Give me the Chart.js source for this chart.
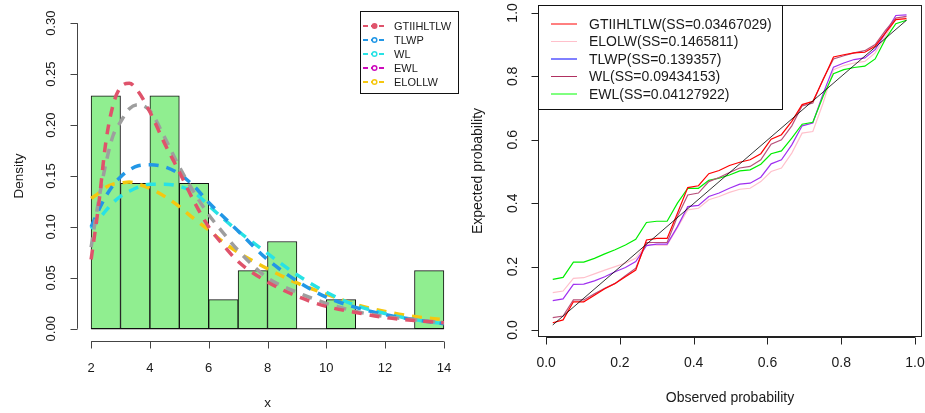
<!DOCTYPE html>
<html>
<head>
<meta charset="utf-8">
<script src="https://cdn.jsdelivr.net/npm/chart.js@4.4.1/dist/chart.umd.min.js"></script>
<style>
  body { margin: 0; background: #fff; }
  #wrap { position: relative; width: 925px; height: 413px; }
  canvas { position: absolute; top: 0; }
  #histChart { left: 0; }
  #ppChart { left: 460px; }
</style>
</head>
<body>
<div id="wrap">
  <canvas id="histChart" width="460" height="413"></canvas>
  <canvas id="ppChart" width="465" height="413"></canvas>
</div>
<script>
// ---- histogram: unit-width bins and their densities ----
const binMids = [2.5, 3.5, 4.5, 5.5, 6.5, 7.5, 8.5, 9.5, 10.5, 11.5, 12.5, 13.5];
const binDensity = [0.2286, 0.1429, 0.2286, 0.1429, 0.0286, 0.0571, 0.0857, 0, 0.0286, 0, 0, 0.0571];

// fitted densities on a grid of x values
const gridX = [2, 2.25, 2.5, 2.75, 3, 3.3, 3.6, 4, 4.5, 5, 5.5, 6, 6.5, 7, 8, 9, 10, 11, 12, 13, 14];
const densGTIIHLTLW = [0.068, 0.12, 0.183, 0.22, 0.237, 0.241, 0.233, 0.213, 0.182, 0.154, 0.125, 0.10, 0.082, 0.066, 0.046, 0.032, 0.022, 0.016, 0.011, 0.008, 0.006];
const densEWL = [0.08, 0.125, 0.162, 0.19, 0.203, 0.216, 0.22, 0.214, 0.188, 0.159, 0.134, 0.112, 0.094, 0.077, 0.05, 0.036, 0.025, 0.017, 0.012, 0.009, 0.006];
const densTLWP = [0.10, 0.116, 0.13, 0.141, 0.149, 0.156, 0.16, 0.161, 0.159, 0.152, 0.14, 0.124, 0.11, 0.096, 0.068, 0.047, 0.031, 0.021, 0.014, 0.009, 0.005];
const densWL = [0.098, 0.107, 0.116, 0.124, 0.13, 0.135, 0.139, 0.142, 0.142, 0.14, 0.134, 0.121, 0.108, 0.096, 0.074, 0.053, 0.036, 0.023, 0.015, 0.009, 0.005];
const densELOLLW = [0.128, 0.133, 0.139, 0.142, 0.143, 0.144, 0.142, 0.138, 0.13, 0.12, 0.108, 0.097, 0.085, 0.075, 0.059, 0.045, 0.034, 0.024, 0.017, 0.012, 0.009];

const histXTicks = [2, 4, 6, 8, 10, 12, 14];
const histYTicks = [0, 0.05, 0.10, 0.15, 0.20, 0.25, 0.30];
const histLabels = ['GTIIHLTLW', 'TLWP', 'WL', 'EWL', 'ELOLLW'];

// ---- P-P plot ----
const obsProb = [0.018, 0.046, 0.074, 0.102, 0.131, 0.159, 0.187, 0.215, 0.243, 0.272, 0.300, 0.328, 0.356, 0.384, 0.413, 0.441, 0.469, 0.497, 0.525, 0.553, 0.582, 0.610, 0.638, 0.666, 0.694, 0.723, 0.751, 0.779, 0.807, 0.835, 0.864, 0.892, 0.920, 0.948, 0.977];
const ppGTIIHLTLW = [0.023, 0.032, 0.089, 0.089, 0.11, 0.13, 0.147, 0.168, 0.189, 0.284, 0.289, 0.289, 0.368, 0.449, 0.455, 0.493, 0.503, 0.519, 0.529, 0.537, 0.556, 0.602, 0.616, 0.658, 0.711, 0.721, 0.789, 0.861, 0.868, 0.874, 0.876, 0.895, 0.937, 0.979, 0.982];
const ppELOLW = [0.118, 0.123, 0.163, 0.165, 0.177, 0.189, 0.20, 0.211, 0.226, 0.272, 0.268, 0.268, 0.323, 0.379, 0.384, 0.411, 0.421, 0.434, 0.444, 0.447, 0.468, 0.50, 0.511, 0.558, 0.621, 0.626, 0.716, 0.821, 0.834, 0.842, 0.847, 0.874, 0.926, 0.983, 0.987];
const ppTLWP = [0.093, 0.098, 0.144, 0.145, 0.155, 0.168, 0.184, 0.197, 0.216, 0.266, 0.271, 0.271, 0.326, 0.389, 0.393, 0.421, 0.432, 0.447, 0.46, 0.463, 0.482, 0.524, 0.537, 0.584, 0.644, 0.653, 0.745, 0.829, 0.842, 0.853, 0.858, 0.884, 0.937, 0.992, 0.994];
const ppWL = [0.039, 0.044, 0.095, 0.095, 0.114, 0.132, 0.147, 0.171, 0.195, 0.276, 0.276, 0.276, 0.358, 0.426, 0.432, 0.468, 0.481, 0.497, 0.511, 0.516, 0.537, 0.586, 0.60, 0.644, 0.707, 0.716, 0.792, 0.855, 0.865, 0.874, 0.881, 0.90, 0.945, 0.984, 0.989];
const ppEWL = [0.16, 0.166, 0.214, 0.214, 0.226, 0.24, 0.253, 0.268, 0.286, 0.339, 0.343, 0.343, 0.40, 0.447, 0.447, 0.472, 0.479, 0.489, 0.502, 0.505, 0.523, 0.556, 0.565, 0.605, 0.649, 0.655, 0.737, 0.808, 0.821, 0.828, 0.832, 0.855, 0.918, 0.966, 0.977];

const ppTicks = [0, 0.2, 0.4, 0.6, 0.8, 1.0];
const ppLabels = ['GTIIHLTLW(SS=0.03467029)', 'ELOLW(SS=0.1465811)', 'TLWP(SS=0.139357)', 'WL(SS=0.09434153)', 'EWL(SS=0.04127922)'];

const FONT = '"Liberation Sans", Arial, sans-serif';
const INK = '#1a1a1a';

const pts = (xs, ys) => xs.map((x, i) => ({ x, y: ys[i] }));

// base-graphics style axes: lines only between first and last tick, labels turned on the y side
function rAxes(cfg) {
  return {
    id: 'rAxes',
    afterDraw(chart) {
      const { ctx, chartArea: a } = chart;
      const sx = chart.scales.x, sy = chart.scales.y;
      ctx.save();
      ctx.strokeStyle = cfg.axisColor;
      ctx.lineWidth = 1;
      if (cfg.box) ctx.strokeRect(Math.round(a.left) + 0.5, Math.round(a.top) + 0.5, Math.round(a.width) - 1, Math.round(a.height) - 1);

      const yb = Math.round(a.bottom) + 0.5;
      const xl = Math.round(a.left) + 0.5;
      ctx.beginPath();
      ctx.moveTo(sx.getPixelForValue(cfg.xTicks[0]), yb);
      ctx.lineTo(sx.getPixelForValue(cfg.xTicks[cfg.xTicks.length - 1]), yb);
      cfg.xTicks.forEach(v => {
        const px = Math.round(sx.getPixelForValue(v)) + 0.5;
        ctx.moveTo(px, yb);
        ctx.lineTo(px, yb + 7);
      });
      ctx.moveTo(xl, sy.getPixelForValue(cfg.yTicks[0]));
      ctx.lineTo(xl, sy.getPixelForValue(cfg.yTicks[cfg.yTicks.length - 1]));
      cfg.yTicks.forEach(v => {
        const py = Math.round(sy.getPixelForValue(v)) + 0.5;
        ctx.moveTo(xl, py);
        ctx.lineTo(xl - 7, py);
      });
      ctx.stroke();

      ctx.fillStyle = INK;
      ctx.font = cfg.tickFont;
      ctx.textAlign = 'center';
      ctx.textBaseline = 'middle';
      cfg.xTicks.forEach(v => ctx.fillText(v.toFixed(cfg.xDigits), sx.getPixelForValue(v), cfg.xLabelY));
      cfg.yTicks.forEach(v => {
        ctx.save();
        ctx.translate(cfg.yLabelX, sy.getPixelForValue(v));
        ctx.rotate(-Math.PI / 2);
        ctx.fillText(v.toFixed(cfg.yDigits), 0, 0);
        ctx.restore();
      });

      ctx.font = cfg.titleFont;
      ctx.fillText(cfg.xTitle, (a.left + a.right) / 2, cfg.xTitleY);
      ctx.save();
      ctx.translate(cfg.yTitleX, (a.top + a.bottom) / 2);
      ctx.rotate(-Math.PI / 2);
      ctx.fillText(cfg.yTitle, 0, 0);
      ctx.restore();
      ctx.restore();
    }
  };
}

// boxed legend with a line sample (and optional marker) per entry
function rLegend(cfg) {
  return {
    id: 'rLegend',
    afterDraw(chart) {
      const ctx = chart.ctx;
      ctx.save();
      ctx.fillStyle = '#fff';
      ctx.fillRect(cfg.x, cfg.y, cfg.w, cfg.h);
      ctx.strokeStyle = '#111';
      ctx.lineWidth = 1;
      ctx.strokeRect(cfg.x + 0.5, cfg.y + 0.5, cfg.w, cfg.h);
      ctx.font = cfg.font;
      ctx.textAlign = 'left';
      ctx.textBaseline = 'middle';
      cfg.labels.forEach((lab, i) => {
        const yy = cfg.rowY + i * cfg.rowH;
        ctx.strokeStyle = cfg.colors[i];
        ctx.lineWidth = cfg.lineW;
        ctx.setLineDash(cfg.dash);
        ctx.beginPath();
        ctx.moveTo(cfg.lineX0, yy);
        ctx.lineTo(cfg.lineX1, yy);
        ctx.stroke();
        ctx.setLineDash([]);
        if (cfg.marker) {
          const cx = (cfg.lineX0 + cfg.lineX1) / 2;
          ctx.beginPath();
          if (i === 0) {
            ctx.fillStyle = cfg.colors[i];
            ctx.arc(cx, yy, 3, 0, Math.PI * 2);
            ctx.fill();
          } else {
            ctx.fillStyle = '#fff';
            ctx.lineWidth = 1.5;
            ctx.arc(cx, yy, 2.3, 0, Math.PI * 2);
            ctx.fill();
            ctx.stroke();
          }
        }
        ctx.fillStyle = INK;
        ctx.fillText(lab, cfg.textX, yy + 1);
      });
      ctx.restore();
    }
  };
}

const dashed = (color, order) => ({
  type: 'line', borderColor: color, borderWidth: 3.5, borderDash: [10, 8], borderCapStyle: 'butt',
  pointRadius: 0, cubicInterpolationMode: 'monotone', order
});

new Chart(document.getElementById('histChart'), {
  type: 'bar',
  data: {
    datasets: [
      { ...dashed('#DF536B', 1), data: pts(gridX, densGTIIHLTLW) },
      { ...dashed('#9E9E9E', 2), data: pts(gridX, densEWL) },
      { ...dashed('#2297E6', 3), data: pts(gridX, densTLWP) },
      { ...dashed('#28E2E5', 4), data: pts(gridX, densWL) },
      { ...dashed('#F5C710', 5), data: pts(gridX, densELOLLW) },
      { type: 'line', data: pts([2, 14], [0, 0]), borderColor: '#111', borderWidth: 1, pointRadius: 0, order: 9 },
      {
        type: 'bar', data: pts(binMids, binDensity), backgroundColor: '#90EE90', borderColor: '#111',
        borderWidth: 1, borderSkipped: false, barPercentage: 1, categoryPercentage: 1, order: 10
      }
    ]
  },
  options: {
    responsive: false, animation: false, devicePixelRatio: 1,
    layout: { padding: { left: 77, right: 2, top: 11, bottom: 72 } },
    plugins: { legend: { display: false }, tooltip: { enabled: false } },
    scales: {
      x: { type: 'linear', min: 1.52, max: 14.48, offset: false, display: false },
      y: { type: 'linear', min: -0.012, max: 0.312, display: false }
    }
  },
  plugins: [
    rAxes({
      axisColor: '#444', xTicks: histXTicks, yTicks: histYTicks, xDigits: 0, yDigits: 2,
      tickFont: `13px ${FONT}`, titleFont: `13.5px ${FONT}`,
      xLabelY: 368, yLabelX: 51, xTitle: 'x', xTitleY: 403, yTitle: 'Density', yTitleX: 19
    }),
    rLegend({
      x: 360, y: 11, w: 98, h: 82, font: `11px ${FONT}`, labels: histLabels,
      colors: ['#DF536B', '#2297E6', '#28E2E5', '#CD0BBC', '#F5C710'],
      rowY: 26, rowH: 14, lineX0: 363, lineX1: 386, textX: 394, lineW: 2, dash: [5, 3], marker: true
    })
  ]
});

const thin = (color, order) => ({ borderColor: color, borderWidth: 1.2, pointRadius: 0, tension: 0, order });

new Chart(document.getElementById('ppChart'), {
  type: 'line',
  data: {
    datasets: [
      { ...thin('#000000', 0), borderWidth: 0.8, data: pts([obsProb[0], obsProb[obsProb.length - 1]], [0.016, 0.977]) },
      { ...thin('#FF0000', 1), data: pts(obsProb, ppGTIIHLTLW) },
      { ...thin('#B8507A', 2), data: pts(obsProb, ppWL) },
      { ...thin('#00EE00', 3), data: pts(obsProb, ppEWL) },
      { ...thin('#A030F0', 4), data: pts(obsProb, ppTLWP) },
      { ...thin('#FFC0CB', 5), data: pts(obsProb, ppELOLW) }
    ]
  },
  options: {
    responsive: false, animation: false, devicePixelRatio: 1,
    layout: { padding: { left: 78, right: 3, top: 5, bottom: 76 } },
    plugins: { legend: { display: false }, tooltip: { enabled: false } },
    scales: {
      x: { type: 'linear', min: -0.022, max: 1.019, display: false },
      y: { type: 'linear', min: -0.022, max: 1.025, display: false }
    }
  },
  plugins: [
    rAxes({
      axisColor: '#222', box: true, xTicks: ppTicks, yTicks: ppTicks, xDigits: 1, yDigits: 1,
      tickFont: `14px ${FONT}`, titleFont: `14px ${FONT}`,
      xLabelY: 363, yLabelX: 53, xTitle: 'Observed probability', xTitleY: 398,
      yTitle: 'Expected probability', yTitleX: 18
    }),
    rLegend({
      x: 78, y: 5, w: 244, h: 104, font: `14px ${FONT}`, labels: ppLabels,
      colors: ['#FF0000', '#FFC0CB', '#0000FF', '#B03060', '#00FF00'],
      rowY: 24, rowH: 17.5, lineX0: 91, lineX1: 117, textX: 129, lineW: 1, dash: [], marker: false
    })
  ]
});
</script>
</body>
</html>
